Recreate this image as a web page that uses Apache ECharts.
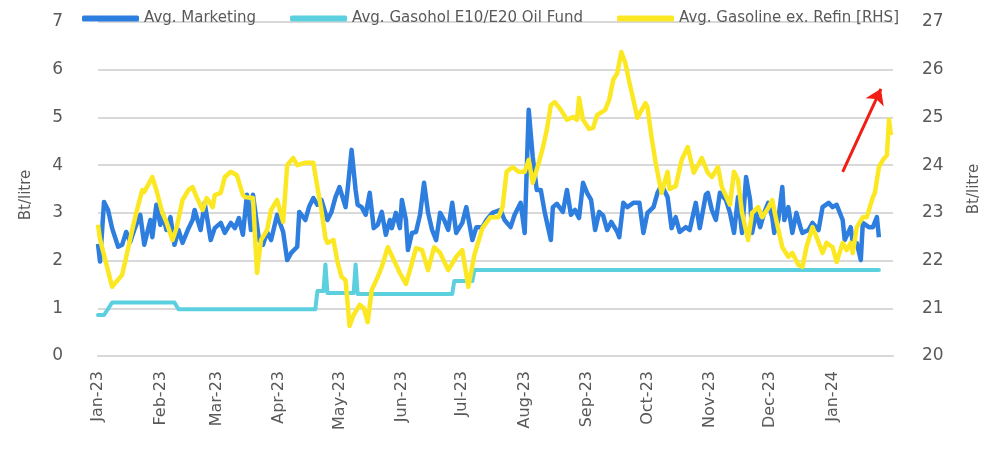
<!DOCTYPE html>
<html>
<head>
<meta charset="utf-8">
<script src="https://cdn.jsdelivr.net/npm/echarts@6/dist/echarts.min.js"></script>
<style>
  html, body { margin: 0; padding: 0; background: #fff; }
  #chart { width: 990px; height: 449px; }
</style>
</head>
<body>
<div id="chart"></div>
<script>
// x axis: one category per day, 2023-01-01 .. 2024-01-31
const firstDay = '2023-01-01';
const lastDay = '2024-01-31';
const monthNames = ['Jan','Feb','Mar','Apr','May','Jun','Jul','Aug','Sep','Oct','Nov','Dec'];

// [day index since 1 Jan 2023, Bt/litre]
const marketing = [
  [0,2.35],[1,1.98],[3,3.23],[5,3.06],[7,2.68],[10,2.29],[12,2.33],[14,2.60],[16,2.39],[18,2.64],
  [21,2.96],[23,2.33],[26,2.85],[27,2.49],[29,3.17],[31,2.75],[32,3.00],[34,2.64],[36,2.91],[38,2.33],
  [40,2.64],[42,2.37],[45,2.68],[47,2.85],[48,3.06],[51,2.64],[53,3.21],[56,2.43],[58,2.68],[61,2.79],
  [63,2.58],[66,2.79],[68,2.68],[70,2.89],[72,2.54],[74,3.38],[76,2.64],[77,3.38],[80,2.43],[82,2.33],
  [84,2.60],[86,2.43],[89,2.96],[92,2.60],[94,2.01],[96,2.16],[99,2.29],[100,3.02],[103,2.85],[105,3.14],
  [107,3.31],[109,3.17],[111,3.27],[114,2.85],[116,3.02],[118,3.33],[120,3.54],[123,3.12],[124,3.48],[126,4.32],
  [128,3.48],[129,3.17],[131,3.12],[133,2.96],[135,3.42],[137,2.68],[139,2.75],[141,3.02],[143,2.54],[145,2.85],
  [146,2.68],[148,3.00],[150,2.68],[151,3.27],[153,2.85],[154,2.22],[156,2.58],[158,2.60],[160,2.96],[162,3.63],
  [164,3.00],[166,2.64],[168,2.43],[170,3.00],[172,2.85],[174,2.64],[176,3.21],[178,2.58],[181,2.79],[183,3.12],
  [186,2.43],[188,2.70],[191,2.70],[193,2.85],[196,3.00],[200,3.06],[202,2.85],[205,2.70],[207,2.96],[210,3.21],
  [212,2.58],[214,5.16],[216,4.17],[218,3.48],[220,3.48],[222,3.00],[225,2.43],[226,3.12],[228,3.19],[231,3.02],
  [233,3.48],[235,2.96],[237,3.06],[239,2.89],[241,3.63],[243,3.42],[245,3.27],[247,2.64],[249,3.02],[251,2.94],
  [253,2.64],[255,2.81],[258,2.60],[259,2.49],[261,3.21],[263,3.12],[266,3.21],[269,3.21],[271,2.58],[273,3.00],
  [276,3.12],[278,3.42],[280,3.58],[283,3.33],[285,2.68],[287,2.91],[289,2.60],[292,2.70],[294,2.64],[297,3.21],
  [299,2.68],[302,3.38],[303,3.42],[305,3.06],[307,2.85],[309,3.42],[312,3.27],[314,3.00],[316,2.58],[318,3.33],
  [320,2.58],[322,3.75],[324,3.27],[325,2.58],[327,3.00],[329,2.70],[331,3.00],[333,3.21],[335,2.91],[336,2.58],
  [338,2.85],[340,3.54],[341,2.85],[343,3.12],[345,2.58],[347,3.00],[349,2.70],[350,2.58],[353,2.64],[355,2.79],
  [358,2.64],[360,3.12],[363,3.21],[365,3.12],[367,3.17],[370,2.85],[371,2.43],[374,2.70],[375,2.37],[377,2.37],
  [379,2.01],[380,2.79],[383,2.70],[385,2.70],[387,2.91],[388,2.49]
];

const oilFund = [
  [0,0.86],[3,0.86],[7,1.12],[38,1.12],[40,0.98],[108,0.98],[109,1.36],[112,1.36],[113,1.92],[114,1.32],
  [127,1.32],[128,1.92],[129,1.30],[176,1.30],[177,1.57],[186,1.57],[187,1.80],[388,1.80]
];

// right hand scale
const gasoline = [
  [0,22.75],[1,22.45],[7,21.45],[12,21.70],[17,22.64],[19,23.00],[22,23.48],[23,23.44],[27,23.75],[29,23.48],
  [32,23.00],[34,22.81],[37,22.43],[39,22.68],[42,23.27],[45,23.48],[47,23.54],[49,23.33],[52,23.06],[54,23.31],
  [57,23.12],[58,23.37],[61,23.42],[63,23.75],[66,23.86],[69,23.79],[72,23.37],[73,23.33],[77,23.31],[79,21.74],
  [81,22.43],[84,22.64],[86,23.06],[89,23.27],[92,22.81],[94,24.00],[97,24.15],[99,24.00],[103,24.05],[107,24.05],
  [109,23.54],[111,23.06],[113,22.47],[114,22.37],[117,22.43],[119,21.97],[121,21.66],[123,21.59],[125,20.63],[127,20.86],
  [130,21.07],[132,21.01],[134,20.71],[136,21.38],[139,21.66],[141,21.87],[144,22.28],[147,22.01],[150,21.74],[153,21.51],
  [155,21.80],[158,22.26],[161,22.22],[164,21.80],[167,22.28],[170,22.16],[174,21.80],[178,22.08],[181,22.22],[184,21.45],
  [187,22.12],[191,22.68],[195,22.91],[199,22.91],[201,23.12],[203,23.86],[206,23.96],[209,23.86],[212,23.86],[214,24.11],
  [216,23.63],[219,24.05],[221,24.36],[223,24.74],[225,25.26],[227,25.32],[230,25.16],[233,24.95],[236,25.01],[238,24.95],
  [239,25.41],[241,24.95],[244,24.76],[246,24.78],[248,25.05],[252,25.16],[254,25.37],[256,25.79],[258,25.93],[260,26.37],
  [262,26.14],[264,25.74],[266,25.37],[268,24.99],[272,25.30],[273,25.22],[275,24.59],[277,24.07],[279,23.63],[280,23.42],
  [283,23.86],[284,23.50],[287,23.56],[290,24.11],[293,24.38],[296,23.84],[300,24.15],[303,23.84],[305,23.75],[308,23.96],
  [310,23.54],[314,23.17],[316,23.86],[318,23.69],[320,23.00],[323,22.43],[325,23.00],[328,23.12],[330,22.91],[333,23.10],
  [335,23.27],[337,22.85],[340,22.28],[343,22.08],[345,22.16],[348,21.91],[350,21.87],[352,22.28],[355,22.70],[357,22.49],
  [360,22.16],[362,22.37],[365,22.28],[367,21.97],[370,22.37],[372,22.22],[374,22.37],[375,22.16],[377,22.70],[380,22.91],
  [382,22.91],[385,23.33],[386,23.42],[388,23.96],[390,24.11],[392,24.21],[393,24.95],[394,24.63]
];

// red arrow, in data coords (day, RHS value)
const arrowFrom = [370, 23.86];
const arrowTo = [389, 25.6];

const dates = [];
for (let t = Date.parse(firstDay); t <= Date.parse(lastDay); t += 86400000) {
  dates.push(new Date(t).toISOString().slice(0, 10));
}

const font = 'DejaVu Sans';
const grey = '#595959';

const chart = echarts.init(document.getElementById('chart'));
chart.setOption({
  animation: false,
  textStyle: { fontFamily: font },
  legend: {
    top: 6,
    left: 77,
    itemWidth: 57,
    itemHeight: 6,
    itemGap: 34,
    icon: 'roundRect',
    textStyle: { fontSize: 15, color: grey, fontFamily: font },
    data: ['Avg. Marketing', 'Avg. Gasohol E10/E20 Oil Fund', 'Avg. Gasoline ex. Refin [RHS]']
  },
  grid: { left: 98, right: 97, top: 22, bottom: 93 },
  xAxis: {
    type: 'category',
    data: dates,
    boundaryGap: false,
    axisLine: { lineStyle: { color: '#d9d9d9', width: 2 } },
    axisTick: { show: false },
    axisLabel: {
      rotate: 90,
      margin: 15,
      fontSize: 16,
      color: grey,
      interval: (i, v) => v.slice(8) === '01',
      formatter: v => monthNames[+v.slice(5, 7) - 1] + '-' + v.slice(2, 4)
    }
  },
  yAxis: [
    {
      type: 'value', min: 0, max: 7, interval: 1,
      name: 'Bt/litre', nameLocation: 'middle', nameGap: 64, nameRotate: 90,
      nameTextStyle: { fontSize: 15, color: grey, padding: [0, 12, 0, 0] },
      axisLabel: { fontSize: 17, color: grey, margin: 35 },
      axisLine: { show: false }, axisTick: { show: false },
      splitLine: { lineStyle: { color: '#d9d9d9', width: 2 } }
    },
    {
      type: 'value', min: 20, max: 27, interval: 1,
      name: 'Bt/litre', nameLocation: 'middle', nameGap: 74, nameRotate: 90,
      nameTextStyle: { fontSize: 15, color: grey },
      axisLabel: { fontSize: 17, color: grey, margin: 29 },
      axisLine: { show: false }, axisTick: { show: false },
      splitLine: { show: false }
    }
  ],
  series: [
    {
      name: 'Avg. Marketing', type: 'line', yAxisIndex: 0,
      data: marketing, showSymbol: false,
      itemStyle: { color: '#2e7ee0' },
      lineStyle: { color: '#2e7ee0', width: 4.5, join: 'round' }
    },
    {
      name: 'Avg. Gasohol E10/E20 Oil Fund', type: 'line', yAxisIndex: 0,
      data: oilFund, showSymbol: false,
      itemStyle: { color: '#5dd0df' },
      lineStyle: { color: '#5dd0df', width: 4, join: 'round', cap: 'round' }
    },
    {
      name: 'Avg. Gasoline ex. Refin [RHS]', type: 'line', yAxisIndex: 1,
      data: gasoline, showSymbol: false,
      itemStyle: { color: '#fbe822' },
      lineStyle: { color: '#fbe822', width: 4.5, join: 'round' },
      markLine: {
        silent: true,
        symbol: ['none', 'arrow'],
        symbolSize: 15,
        label: { show: false },
        itemStyle: { color: '#f01e14' },
        lineStyle: { color: '#f01e14', width: 3, type: 'solid' },
        emphasis: { disabled: true },
        data: [[{ coord: arrowFrom }, { coord: arrowTo }]]
      }
    }
  ]
});
</script>
</body>
</html>
